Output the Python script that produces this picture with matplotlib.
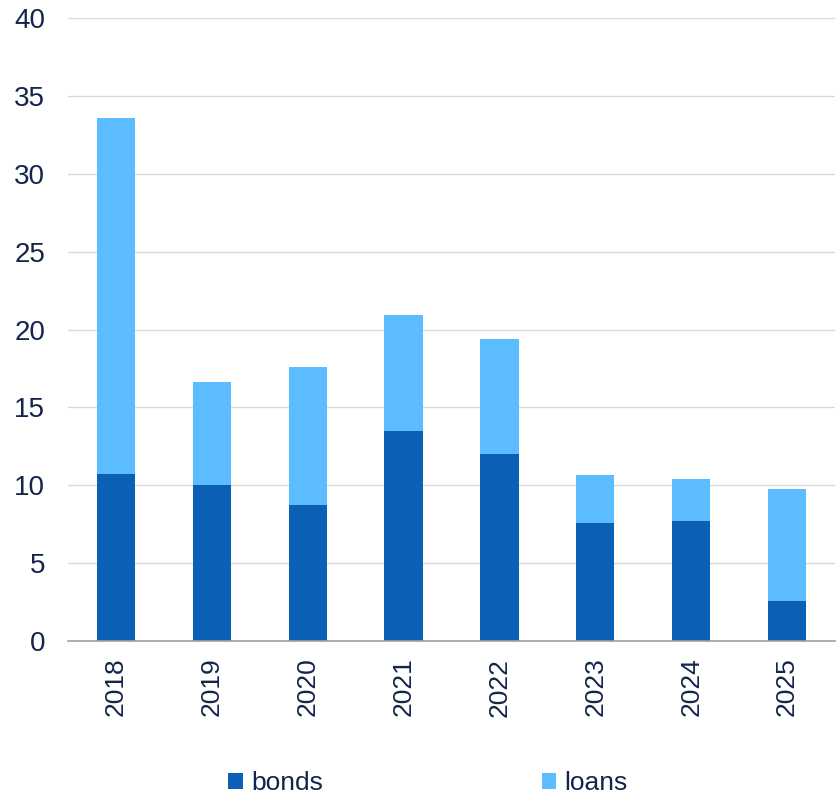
import numpy as np
import matplotlib
matplotlib.use("Agg")
import matplotlib.pyplot as plt

years = ["2018", "2019", "2020", "2021", "2022", "2023", "2024", "2025"]
bonds = [10.7, 10.0, 8.7, 13.5, 12.0, 7.6, 7.7, 2.6]
loans = [22.9, 6.6, 8.9, 7.4, 7.4, 3.05, 2.7, 7.15]

BOND_COL = "#0B5FB4"
LOAN_COL = "#5BBDFF"
TEXT_COL = "#13254A"

plt.rcParams["font.family"] = ["Liberation Sans", "DejaVu Sans"]

fig = plt.figure(figsize=(8.38, 7.98), dpi=100)
ax = fig.add_axes([68 / 838, 1 - 641 / 798, (835 - 68) / 838, (641 - 18) / 798])

x = np.arange(len(years))
ax.bar(x, bonds, width=0.4, color=BOND_COL, label="bonds", zorder=3)
ax.bar(x, loans, width=0.4, bottom=bonds, color=LOAN_COL, label="loans", zorder=3)

ax.set_xlim(-0.5, len(years) - 0.5)
ax.set_ylim(0, 40)
ax.set_yticks(range(0, 41, 5))
ax.set_xticks(x)
ax.set_xticklabels(years, rotation=90)

ax.grid(axis="y", color="#D9D9D9", linewidth=1, zorder=0)
for s in ["top", "right", "left"]:
    ax.spines[s].set_visible(False)
ax.spines["bottom"].set_color("#A0A0A0")
ax.spines["bottom"].set_linewidth(1.2)
ax.spines["bottom"].set_zorder(4)

ax.tick_params(axis="y", length=0, labelsize=20, colors=TEXT_COL, pad=16.5)
ax.tick_params(axis="x", length=0, labelsize=19, colors=TEXT_COL, pad=12)

fig.legend(loc="center", bbox_to_anchor=(428 / 838, 1 - 783 / 798), ncol=2,
           frameon=False, fontsize=19, labelcolor=TEXT_COL,
           handlelength=0.55, handleheight=0.55, handletextpad=0.3,
           columnspacing=8.3)

fig.savefig("out.png", dpi=100)
